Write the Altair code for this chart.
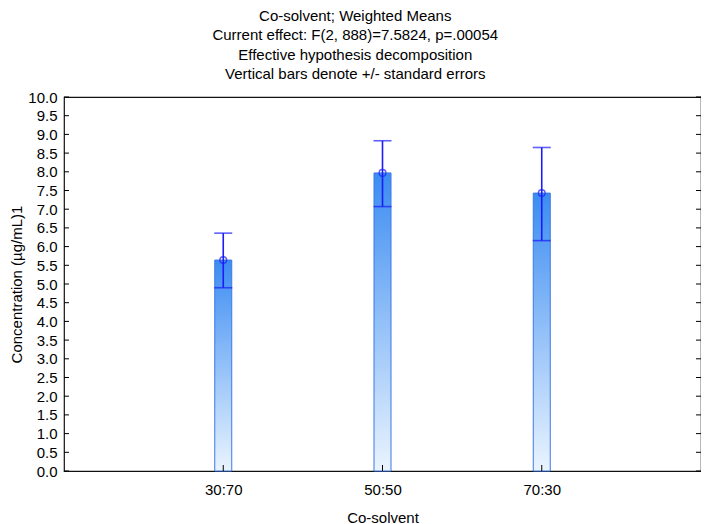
import altair as alt
import pandas as pd

categories = ["30:70", "50:50", "70:30"]
means = [5.64, 7.97, 7.43]
upper = [6.36, 8.83, 8.65]
lower = [4.90, 7.07, 6.16]
y_ticks = [0.0, 0.5, 1.0, 1.5, 2.0, 2.5, 3.0, 3.5, 4.0, 4.5, 5.0,
           5.5, 6.0, 6.5, 7.0, 7.5, 8.0, 8.5, 9.0, 9.5, 10.0]
title_lines = [
    "Co-solvent; Weighted Means",
    "Current effect: F(2, 888)=7.5824, p=.00054",
    "Effective hypothesis decomposition",
    "Vertical bars denote +/- standard errors",
]

df = pd.DataFrame({"cat": categories, "mean": means, "upper": upper, "lower": lower})
ticks_df = pd.DataFrame({"v": y_ticks})

W, H = 637, 374
FONT = "Liberation Sans"
FS = 15
ERR = "#1c1cf8"

x_scale = alt.Scale(type="point", padding=1, domain=categories)
y_scale = alt.Scale(domain=[0, 10], nice=False, zero=True)

x_axis = alt.Axis(title="Co-solvent", labelAngle=0, tickSize=0, labelPadding=11,
                  titleY=46, titleBaseline="middle", domain=False)
y_axis = alt.Axis(title="Concentration (µg/mL)1", values=y_ticks, format=".1f",
                  tickSize=0, labelPadding=7, grid=False, domain=False,
                  titleX=-48, titleY=H / 2, titleAngle=-90, titleBaseline="middle",
                  titleAlign="center")

gradient = alt.Gradient(
    gradient="linear",
    stops=[alt.GradientStop(color="#eaf4fe", offset=0),
           alt.GradientStop(color="#3b8cf2", offset=1)],
    x1=1, x2=1, y1=1, y2=0,
)

base = alt.Chart(df)

bars = base.mark_bar(size=17, color=gradient, stroke="#3d78e6", strokeWidth=1).encode(
    x=alt.X("cat:N", scale=x_scale, axis=x_axis),
    y=alt.Y("mean:Q", scale=y_scale, axis=y_axis),
)

err = base.mark_rule(color=ERR, strokeWidth=1.6).encode(
    x=alt.X("cat:N", scale=x_scale, axis=x_axis),
    y=alt.Y("lower:Q", scale=y_scale, axis=y_axis),
    y2="upper:Q",
)

cap_hi = base.mark_tick(color=ERR, orient="horizontal", size=18, thickness=1.6).encode(
    x=alt.X("cat:N", scale=x_scale, axis=x_axis),
    y=alt.Y("upper:Q", scale=y_scale, axis=y_axis),
)
cap_lo = base.mark_tick(color=ERR, orient="horizontal", size=18, thickness=1.6).encode(
    x=alt.X("cat:N", scale=x_scale, axis=x_axis),
    y=alt.Y("lower:Q", scale=y_scale, axis=y_axis),
)

pts = base.mark_point(shape="circle", size=45, filled=False, color=ERR, strokeWidth=1.4).encode(
    x=alt.X("cat:N", scale=x_scale, axis=x_axis),
    y=alt.Y("mean:Q", scale=y_scale, axis=y_axis),
)

tick_base = alt.Chart(ticks_df)
left_ticks = tick_base.mark_rule(color="black", strokeWidth=1).encode(
    x=alt.value(0), x2=alt.value(5),
    y=alt.Y("v:Q", scale=y_scale, axis=y_axis),
)
right_ticks = tick_base.mark_rule(color="black", strokeWidth=1).encode(
    x=alt.value(W - 5), x2=alt.value(W),
    y=alt.Y("v:Q", scale=y_scale, axis=y_axis),
)
x_ticks = base.mark_rule(color="black", strokeWidth=1).encode(
    x=alt.X("cat:N", scale=x_scale, axis=x_axis),
    y=alt.value(H - 6), y2=alt.value(H),
)

chart = alt.layer(bars, err, cap_hi, cap_lo, pts, left_ticks, right_ticks, x_ticks).properties(
    width=W,
    height=H,
    title=alt.TitleParams(text=title_lines, fontSize=FS, font=FONT, fontWeight="normal",
                          color="black", lineHeight=19.5, anchor="middle", frame="bounds",
                          offset=8),
    autosize=alt.AutoSizeParams(type="none"),
    padding={"left": 56, "top": 89, "right": 0, "bottom": 62},
).configure_view(
    stroke="#111111", strokeWidth=1.2
).configure_axis(
    labelFont=FONT, titleFont=FONT, labelFontSize=FS, titleFontSize=FS,
    labelColor="black", titleColor="black", titleFontWeight="normal",
)

chart.save("out.html", embed_options={"renderer": "svg", "actions": False})
